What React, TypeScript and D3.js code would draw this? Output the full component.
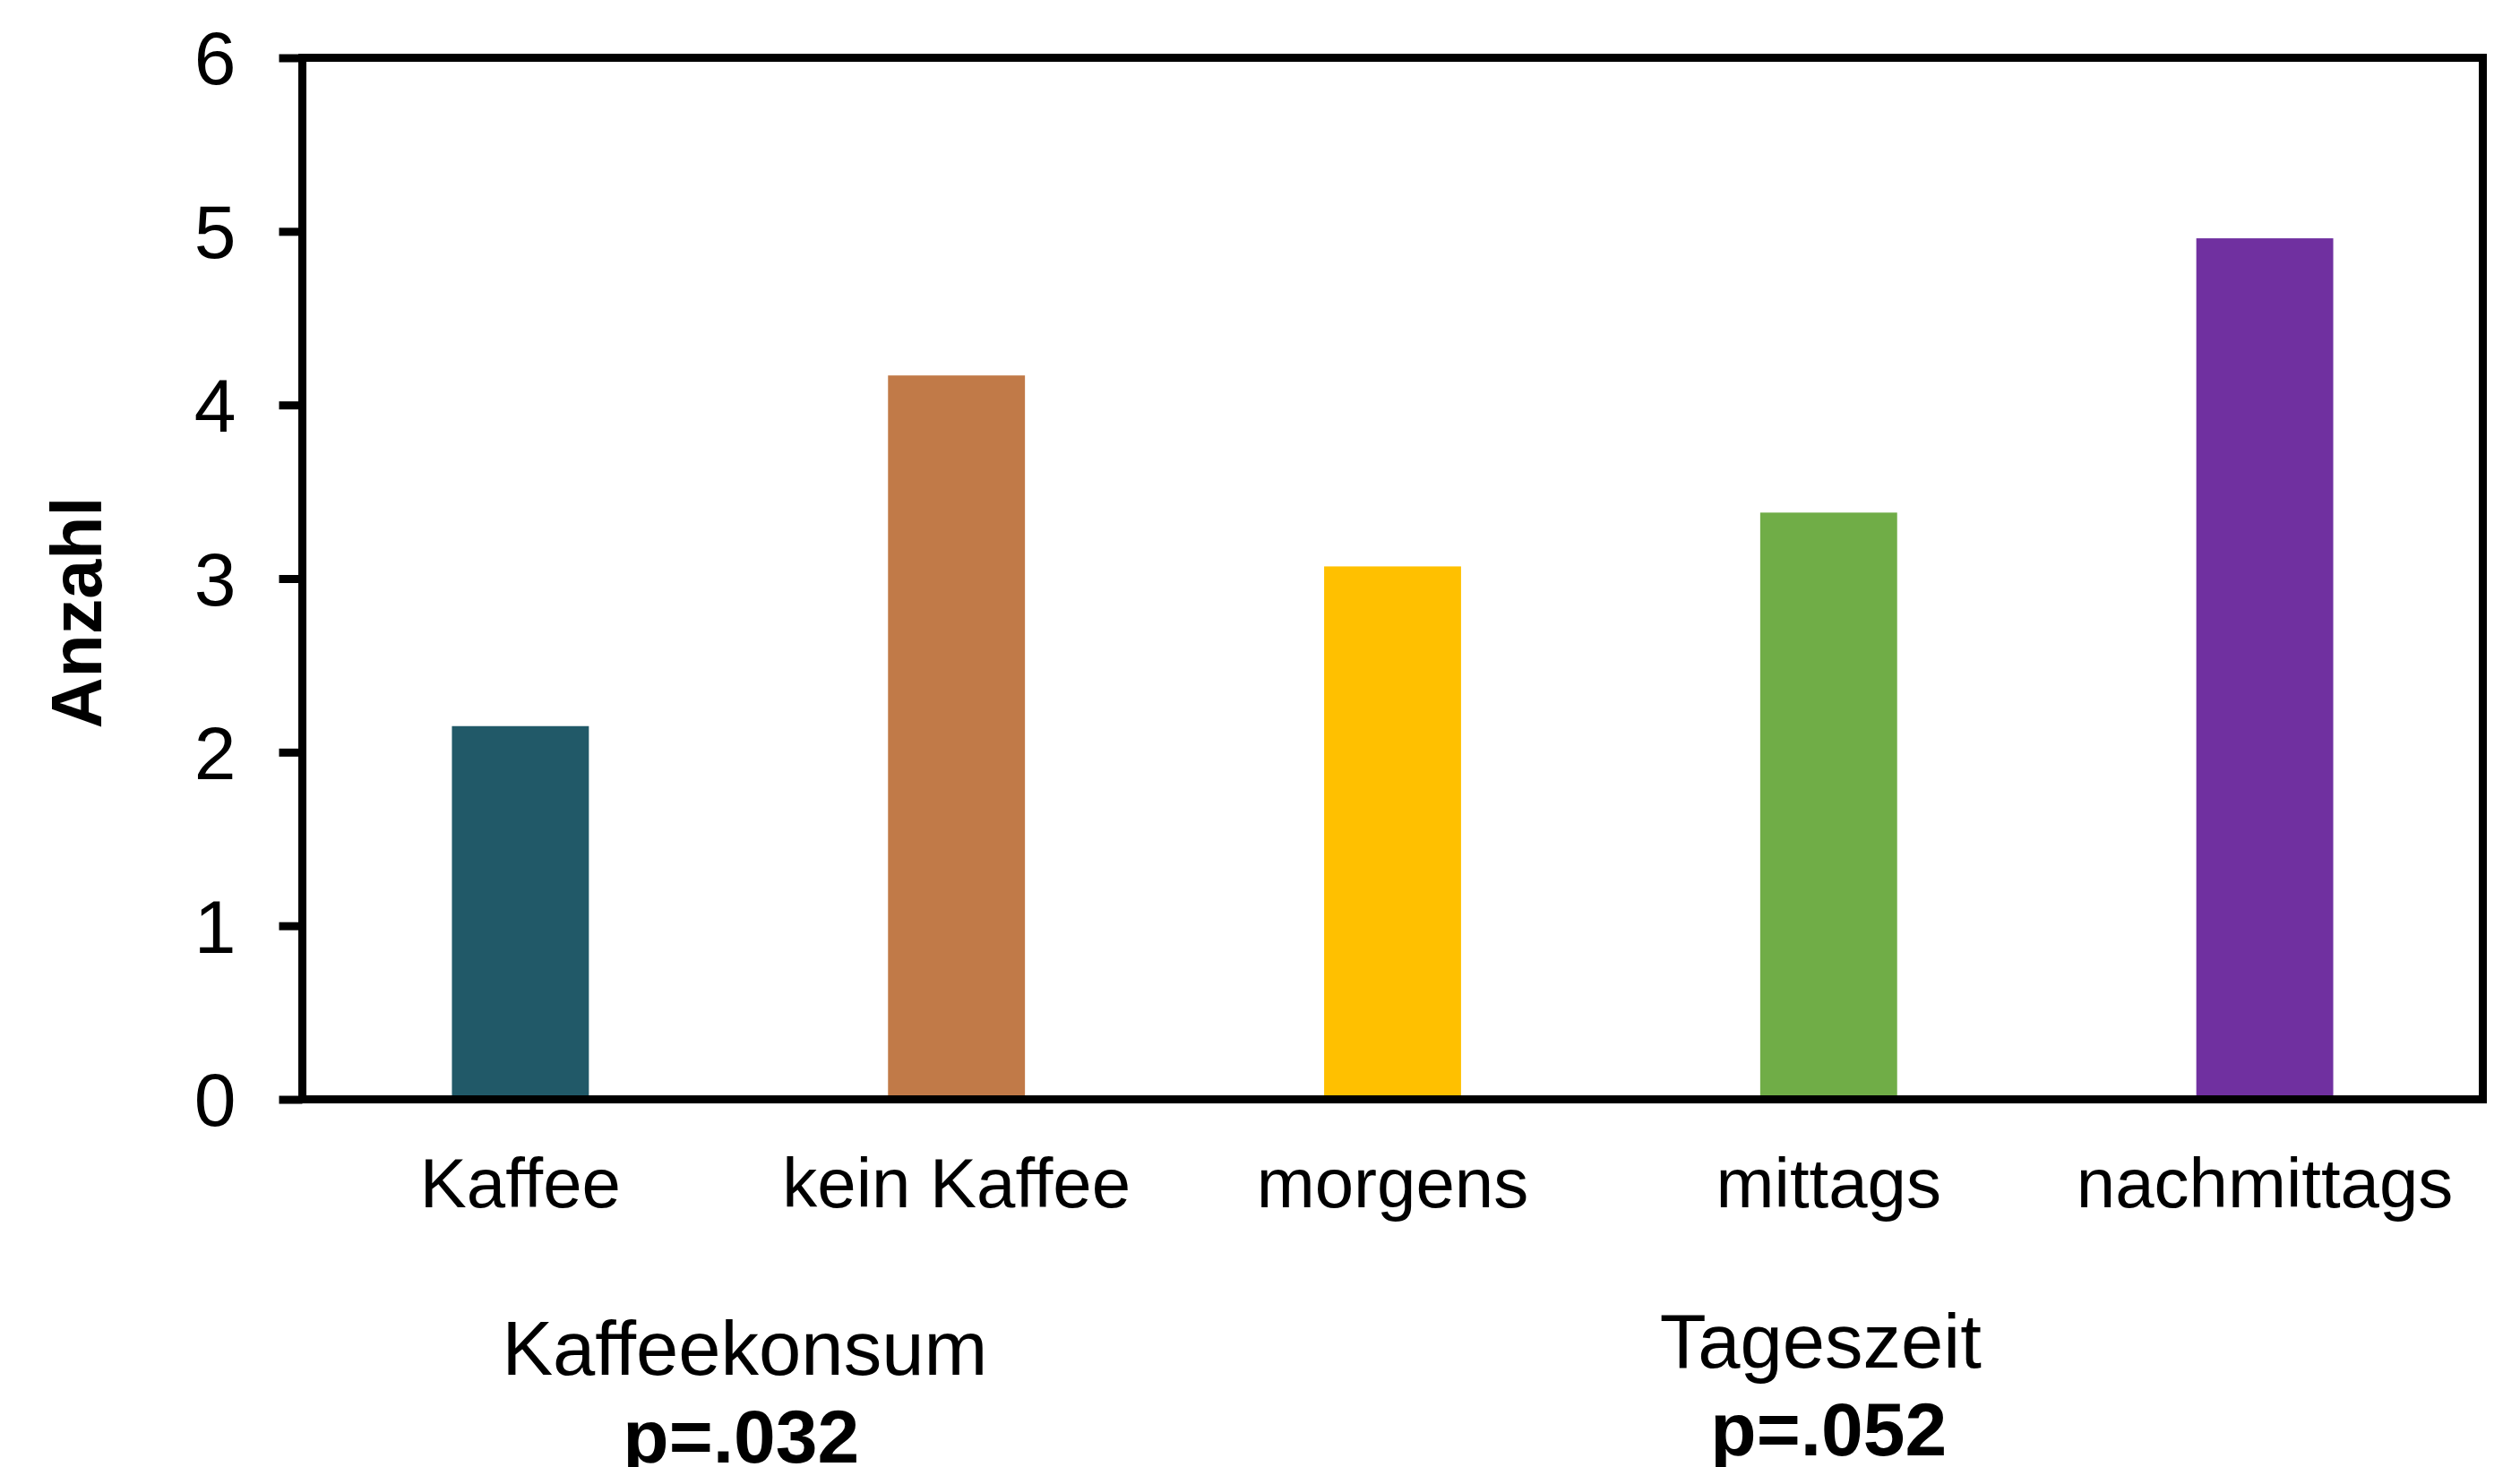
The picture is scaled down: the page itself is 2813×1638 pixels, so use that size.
import React, { useEffect, useRef } from "react";
import * as d3 from "d3";

const categories = ["Kaffee", "kein Kaffee", "morgens", "mittags", "nachmittags"];
const values = [2.15, 4.17, 3.07, 3.38, 4.96];
const barColors = ["#215968", "#C17A48", "#FFC000", "#70AD47", "#7030A0"];
const yTicks = [0, 1, 2, 3, 4, 5, 6];
const groups = [
  { label: "Kaffeekonsum", p: "p=.032", from: 0, to: 1 },
  { label: "Tageszeit", p: "p=.052", from: 2, to: 4 },
];
const yTitle = "Anzahl";

const W = 2813;
const H = 1638;
const M = { left: 337.5, right: 2771.5, top: 64.5, bottom: 1227.5 };
const FONT = "'Liberation Sans', Arial, sans-serif";

export default function App() {
  const ref = useRef<SVGSVGElement | null>(null);

  useEffect(() => {
    const svg = d3.select(ref.current);
    svg.selectAll("*").remove();

    const x = d3
      .scaleBand<string>()
      .domain(categories)
      .range([M.left, M.right])
      .paddingInner(0.686)
      .paddingOuter(0.343);
    const y = d3.scaleLinear().domain([0, 6]).range([M.bottom, M.top]);

    svg.append("rect").attr("width", W).attr("height", H).attr("fill", "#fff");

    // bars
    svg
      .selectAll("rect.bar")
      .data(values)
      .enter()
      .append("rect")
      .attr("class", "bar")
      .attr("x", (_, i) => x(categories[i])!)
      .attr("width", x.bandwidth())
      .attr("y", (d) => y(d))
      .attr("height", (d) => y(0) - y(d))
      .attr("fill", (_, i) => barColors[i]);

    // frame
    svg
      .append("rect")
      .attr("x", M.left)
      .attr("y", M.top)
      .attr("width", M.right - M.left)
      .attr("height", M.bottom - M.top)
      .attr("fill", "none")
      .attr("stroke", "#000")
      .attr("stroke-width", 9);

    // y axis ticks
    const yAxis = d3
      .axisLeft(y)
      .tickValues(yTicks)
      .tickSize(26)
      .tickPadding(48)
      .tickFormat(d3.format("d"));
    const gy = svg.append("g").attr("transform", `translate(${M.left},0)`).call(yAxis);
    gy.select(".domain").remove();
    gy.selectAll(".tick line").attr("stroke", "#000").attr("stroke-width", 9);
    gy.selectAll(".tick text")
      .attr("font-family", FONT)
      .attr("font-size", 84)
      .attr("fill", "#000")
      .attr("dy", "0.35em");

    // x labels
    svg
      .selectAll("text.xl")
      .data(categories)
      .enter()
      .append("text")
      .attr("class", "xl")
      .attr("x", (d) => x(d)! + x.bandwidth() / 2)
      .attr("y", 1348)
      .attr("text-anchor", "middle")
      .attr("font-family", FONT)
      .attr("font-size", 78)
      .attr("fill", "#000")
      .text((d) => d);

    // group labels
    const labelDx = [7, -9];
    const labelDy = [8, 0];
    groups.forEach((g, gi) => {
      const cx =
        (x(categories[g.from])! + x(categories[g.to])! + x.bandwidth()) / 2;
      svg
        .append("text")
        .attr("x", cx + labelDx[gi])
        .attr("y", 1527 + labelDy[gi])
        .attr("text-anchor", "middle")
        .attr("font-family", FONT)
        .attr("font-size", 85)
        .attr("fill", "#000")
        .text(g.label);
      svg
        .append("text")
        .attr("x", cx + (gi === 0 ? 3 : 0))
        .attr("y", 1625 + labelDy[gi])
        .attr("text-anchor", "middle")
        .attr("font-family", FONT)
        .attr("font-size", 84)
        .attr("font-weight", "bold")
        .attr("fill", "#000")
        .text(g.p);
    });

    // y title
    svg
      .append("text")
      .attr("transform", `translate(113,684) rotate(-90)`)
      .attr("text-anchor", "middle")
      .attr("font-family", FONT)
      .attr("font-size", 79)
      .attr("font-weight", "bold")
      .attr("fill", "#000")
      .text(yTitle);
  }, []);

  return (
    <svg
      ref={ref}
      width={W}
      height={H}
      style={{ position: "absolute", left: 0, top: 0, display: "block" }}
    />
  );
}
